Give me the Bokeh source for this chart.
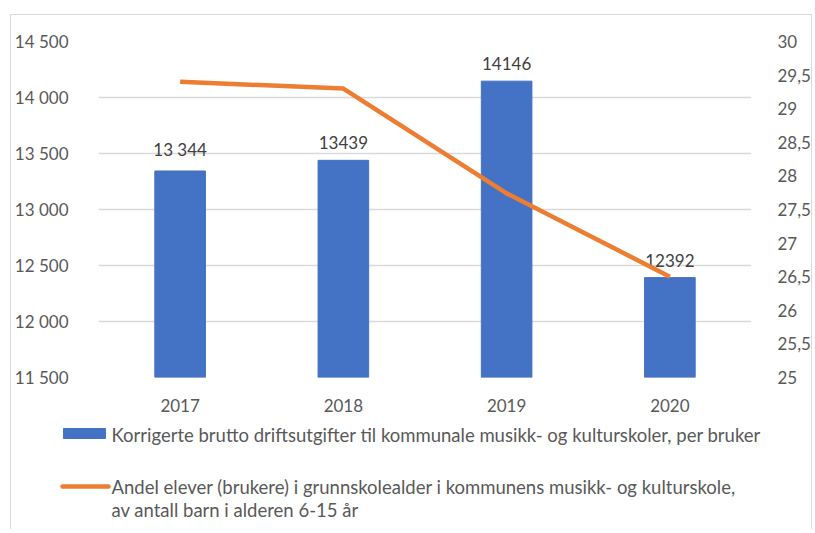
from bokeh.plotting import figure
from bokeh.models import Range1d, LinearAxis, FixedTicker, ColumnDataSource, FactorRange
from bokeh.embed import file_html
from bokeh.resources import INLINE
from bokeh.core.properties import value

years = ["2017", "2018", "2019", "2020"]
costs = [13344, 13439, 14146, 12392]
cost_labels = ["13 344", "13439", "14146", "12392"]
share = [29.4, 29.3, 27.74, 26.5]

left_ticks = [11500, 12000, 12500, 13000, 13500, 14000, 14500]
left_tick_labels = ["11 500", "12 000", "12 500", "13 000", "13 500", "14 000", "14 500"]
right_ticks = [25, 25.5, 26, 26.5, 27, 27.5, 28, 28.5, 29, 29.5, 30]
right_tick_labels = ["25", "25,5", "26", "26,5", "27", "27,5", "28", "28,5", "29", "29,5", "30"]

bar_name = "Korrigerte brutto driftsutgifter til kommunale musikk- og kulturskoler, per bruker"
line_name_1 = "Andel elever (brukere) i grunnskolealder i  kommunens musikk- og kulturskole,"
line_name_2 = "av antall barn i alderen 6-15 år"

FONT = "Lato"
GREY = "#595959"
BLUE = "#4472C4"
ORANGE = "#ED7D31"
BORDER = "1px solid #d9d9d9"

src = ColumnDataSource(dict(x=years, cost=costs, lab=cost_labels, share=share))

p = figure(x_range=FactorRange(*years), y_range=Range1d(11500, 14500),
           width=802, height=405, output_backend="svg", toolbar_location=None,
           min_border_left=86, min_border_right=55, min_border_top=26, min_border_bottom=43,
           styles={"border-top": BORDER, "border-left": BORDER, "border-right": BORDER,
                   "margin-left": "10px", "margin-top": "14px"})
p.outline_line_color = None
p.background_fill_color = "white"
p.border_fill_color = "white"

p.extra_y_ranges = {"right": Range1d(25, 30)}

p.vbar(x="x", top="cost", bottom=11500, width=0.31, source=src, color=BLUE)
p.text(x="x", y="cost", text="lab", source=src, text_align="center", text_baseline="bottom",
       y_offset=-11, text_font=value(FONT), text_font_size="17px", text_color="#404040")
p.line(x="x", y="share", source=src, y_range_name="right", line_color=ORANGE, line_width=4.5)

# axes
p.yaxis.ticker = FixedTicker(ticks=left_ticks)
p.yaxis.major_label_overrides = dict(zip(left_ticks, left_tick_labels))
p.yaxis.axis_line_color = None
p.yaxis.major_tick_line_color = None
p.yaxis.minor_tick_line_color = None
p.yaxis.major_label_standoff = 24
p.yaxis.major_label_text_font = FONT
p.yaxis.major_label_text_font_size = "17px"
p.yaxis.major_label_text_color = GREY

ra = LinearAxis(y_range_name="right", ticker=FixedTicker(ticks=right_ticks))
ra.major_label_overrides = {t: l for t, l in zip(right_ticks, right_tick_labels)}
ra.axis_line_color = None
ra.major_tick_line_color = None
ra.minor_tick_line_color = None
ra.major_label_standoff = 20
ra.major_label_text_font = FONT
ra.major_label_text_font_size = "17px"
ra.major_label_text_color = GREY
p.add_layout(ra, "right")

p.xaxis.axis_line_color = None
p.xaxis.major_tick_line_color = None
p.xaxis.minor_tick_line_color = None
p.xaxis.major_label_standoff = 15
p.xaxis.major_label_text_font = FONT
p.xaxis.major_label_text_font_size = "17px"
p.xaxis.major_label_text_color = GREY

p.xgrid.grid_line_color = None
p.ygrid.grid_line_color = "#d9d9d9"
p.ygrid.grid_line_width = 1.5

# legend panel (pixel-unit coordinates, y downwards)
leg = figure(width=802, height=110, x_range=Range1d(0, 802), y_range=Range1d(110, 0),
             output_backend="svg", toolbar_location=None,
             min_border_left=0, min_border_right=0, min_border_top=0, min_border_bottom=0,
             styles={"border-left": BORDER, "border-right": BORDER, "margin-left": "10px"})
leg.axis.visible = False
leg.grid.visible = False
leg.outline_line_color = None
leg.border_fill_color = "white"

leg.quad(left=[52], right=[94], top=[9], bottom=[19], color=BLUE)
leg.line(x=[51, 97], y=[67, 67], line_color=ORANGE, line_width=4.5, line_cap="round")
leg.text(x=[100, 100, 100], y=[15, 67, 90], text=[bar_name, line_name_1, line_name_2],
         text_baseline="middle", text_align="left", text_font=value(FONT),
         text_font_size="18.5px", text_color=GREY)

open("out.html", "w").write(file_html([p, leg], INLINE))
